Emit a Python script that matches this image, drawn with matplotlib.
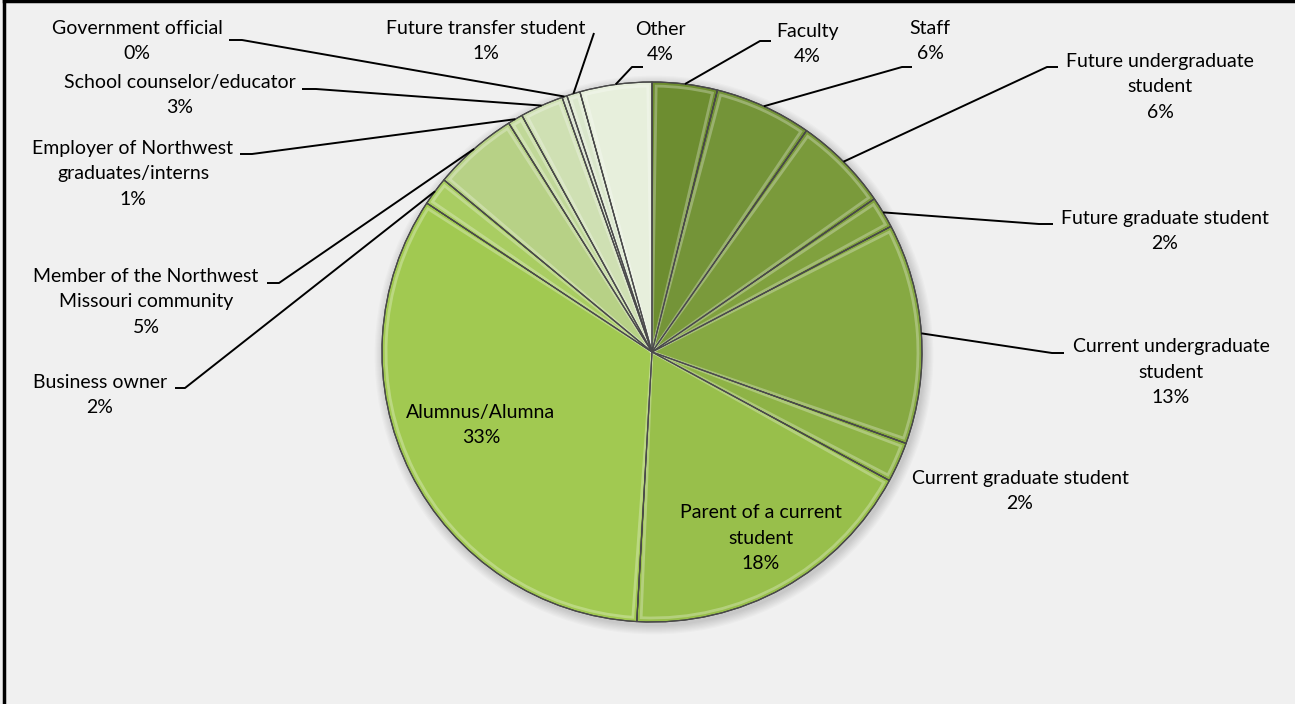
import matplotlib
matplotlib.use("Agg")
import matplotlib.pyplot as plt
from matplotlib.patches import Wedge, Circle
import numpy as np

# Survey respondents by role (percent of responses)
roles = [
    "Faculty", "Staff", "Future undergraduate\nstudent", "Future graduate student",
    "Current undergraduate\nstudent", "Current graduate student",
    "Parent of a current\nstudent", "Alumnus/Alumna", "Business owner",
    "Member of the Northwest\nMissouri community",
    "Employer of Northwest\ngraduates/interns", "School counselor/educator",
    "Government official", "Future transfer student", "Other",
]
shares = [3.9, 5.8, 5.7, 1.9, 13.2, 2.4, 18.0, 33.4, 1.7, 5.1, 0.9, 2.6, 0.3, 0.8, 4.3]

slice_colors = [
    "#6d8d30", "#749438", "#7a9a3b", "#80a13e", "#86a942", "#8eb346",
    "#98bf4b", "#a1c951", "#a9cd62", "#b7d186", "#c0d898", "#cfe0b3",
    "#d2ddc4", "#dae7cb", "#e7efdc",
]

W, H = 1295, 704
CX, CY, R = 652, 352, 270   # pie centre / radius in pixels (y from top)


def py(y):
    # pixel row (from top) -> axes y
    return H - y


# label block centres and leader elbows, in pixels from top-left
label_pos = [
    (807, 44), (930, 41), (1160, 87), (1165, 231), (1171, 372), (1020, 491),
    (761, 538), (481, 425), (100, 395), (146, 302), (133, 174), (180, 95),
    (137, 41), (486, 41), (660, 42),
]
leader_elbow = [
    [(760, 41), (771, 41)],
    [(902, 67), (912, 67)],
    [(1047, 67), (1058, 67)],
    [(1039, 224), (1053, 224)],
    [(1052, 353), (1064, 353)],
    None,
    None,
    None,
    [(185, 388), (175, 388)],
    [(279, 283), (267, 283)],
    [(252, 154), (240, 154)],
    [(316, 89), (302, 89)],
    [(242, 40), (229, 40)],
    [(594, 33)],
    [(632, 67), (643, 67)],
]

plt.rcParams["font.family"] = ["Lato", "DejaVu Sans"]

fig = plt.figure(figsize=(W / 100, H / 100), dpi=100)
fig.patch.set_facecolor("#f0f0f0")
ax = fig.add_axes([0, 0, 1, 1])
ax.set_facecolor("#f0f0f0")

# soft drop shadow under the pie
for i in range(8):
    ax.add_patch(Circle((CX + 2, py(CY) - 3), R + 1 + i * 1.2, facecolor="black",
                        edgecolor="none", alpha=0.018, zorder=0))

wedges, _ = ax.pie(shares, colors=slice_colors, startangle=90, counterclock=False,
                   radius=R, center=(CX, py(CY)),
                   wedgeprops=dict(edgecolor="#3a3a3a", linewidth=0.9, zorder=2))

# bevel highlight inside every slice
for w in wedges:
    span = w.theta2 - w.theta1
    inset = min(0.9, span * 0.2)
    ax.add_patch(Wedge(w.center, R * 0.985, w.theta1 + inset, w.theta2 - inset,
                       facecolor="none", edgecolor="white", linewidth=2.0,
                       alpha=0.28, zorder=3))
    ax.add_patch(Wedge(w.center, R, w.theta1, w.theta2, facecolor="none",
                       edgecolor="#4a4a4a", linewidth=0.8, zorder=4))

for i, w in enumerate(wedges):
    name = roles[i]
    pct = f"{round(shares[i]):.0f}%"
    lx, ly = label_pos[i]
    ax.text(lx, py(ly), f"{name}\n{pct}", ha="center", va="center",
            fontsize=14.0, color="black", linespacing=1.62, zorder=6)
    pts = leader_elbow[i]
    if pts is None:
        continue
    mid = np.deg2rad((w.theta1 + w.theta2) / 2)
    rx = CX + R * np.cos(mid)
    ry = py(CY) + R * np.sin(mid)
    xs = [rx] + [p[0] for p in pts]
    ys = [ry] + [py(p[1]) for p in pts]
    ax.plot(xs, ys, color="black", linewidth=1.4, solid_capstyle="butt", zorder=5)

ax.set_xlim(0, W)
ax.set_ylim(0, H)
ax.set_aspect("auto")
ax.axis("off")

# chart border (left and top edges)
ax.plot([4, 4], [0, H], color="black", linewidth=2.5, zorder=7)
ax.plot([4, W], [H - 1, H - 1], color="black", linewidth=2.5, zorder=7)

fig.savefig("out.png", dpi=100, facecolor=fig.get_facecolor())
